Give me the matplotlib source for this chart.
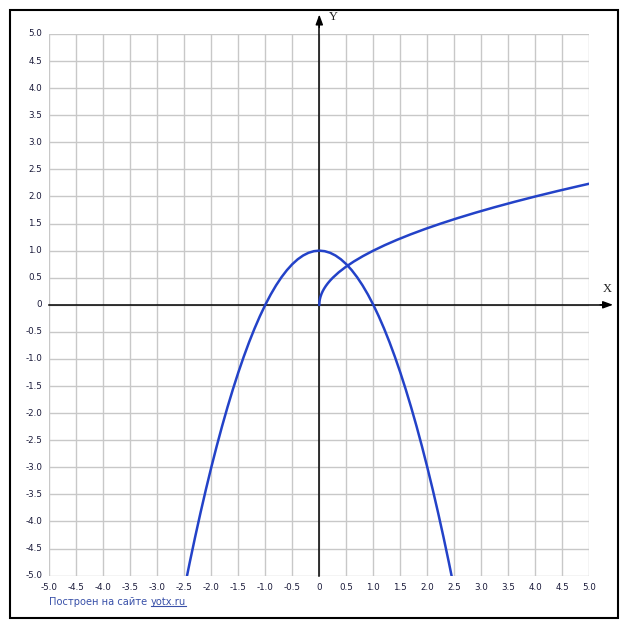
import matplotlib
matplotlib.use("Agg")
import matplotlib.pyplot as plt
from matplotlib.patches import Rectangle
from matplotlib.lines import Line2D

# ---- data ----
parab_x = [-2.5, -2.4, -2.3, -2.2, -2.1, -2.0, -1.9, -1.8, -1.7, -1.6, -1.5, -1.4, -1.3,
           -1.2, -1.1, -1.0, -0.9, -0.8, -0.7, -0.6, -0.5, -0.4, -0.3, -0.2, -0.1, 0.0,
           0.1, 0.2, 0.3, 0.4, 0.5, 0.6, 0.7, 0.8, 0.9, 1.0, 1.1, 1.2, 1.3, 1.4, 1.5,
           1.6, 1.7, 1.8, 1.9, 2.0, 2.1, 2.2, 2.3, 2.4, 2.5]
parab_y = [-5.25, -4.76, -4.29, -3.84, -3.41, -3.0, -2.61, -2.24, -1.89, -1.56, -1.25, -0.96, -0.69,
           -0.44, -0.21, 0.0, 0.19, 0.36, 0.51, 0.64, 0.75, 0.84, 0.91, 0.96, 0.99, 1.0,
           0.99, 0.96, 0.91, 0.84, 0.75, 0.64, 0.51, 0.36, 0.19, 0.0, -0.21, -0.44, -0.69, -0.96, -1.25,
           -1.56, -1.89, -2.24, -2.61, -3.0, -3.41, -3.84, -4.29, -4.76, -5.25]
root_x = [0.0, 0.0025, 0.01, 0.0225, 0.04, 0.0625, 0.09, 0.1225, 0.16, 0.2025, 0.25, 0.36,
          0.49, 0.64, 0.81, 1.0, 1.21, 1.44, 1.69, 1.96, 2.25, 2.56, 2.89, 3.24, 3.61,
          4.0, 4.41, 4.84, 5.0]
root_y = [0.0, 0.05, 0.1, 0.15, 0.2, 0.25, 0.3, 0.35, 0.4, 0.45, 0.5, 0.6,
          0.7, 0.8, 0.9, 1.0, 1.1, 1.2, 1.3, 1.4, 1.5, 1.6, 1.7, 1.8, 1.9,
          2.0, 2.1, 2.2, 2.236]
tick_vals = [-5.0, -4.5, -4.0, -3.5, -3.0, -2.5, -2.0, -1.5, -1.0, -0.5, 0.0,
             0.5, 1.0, 1.5, 2.0, 2.5, 3.0, 3.5, 4.0, 4.5, 5.0]
tick_labels = ["-5.0", "-4.5", "-4.0", "-3.5", "-3.0", "-2.5", "-2.0", "-1.5", "-1.0", "-0.5", "0",
               "0.5", "1.0", "1.5", "2.0", "2.5", "3.0", "3.5", "4.0", "4.5", "5.0"]
footer_main = "Построен на сайте "
footer_link = "yotx.ru"

W, H = 627, 630
fig = plt.figure(figsize=(W / 100, H / 100), dpi=100)
fig.patch.set_facecolor("white")

# outer frame
fig.add_artist(Rectangle((9.5 / W, (H - 618) / H), 608 / W, 608.5 / H,
                         transform=fig.transFigure, fill=False, edgecolor="black", lw=1.5))

left, right, top, bottom = 49.3, 589.3, 34.0, 575.6
ax = fig.add_axes([left / W, (H - bottom) / H, (right - left) / W, (bottom - top) / H])
ax.set_xlim(-5, 5)
ax.set_ylim(-5, 5)
for s in ax.spines.values():
    s.set_visible(False)
ax.set_xticks([])
ax.set_yticks([])

grid_c = "#c8c8c8"
for v in tick_vals:
    ax.axvline(v, color=grid_c, lw=1.0, zorder=1)
    ax.axhline(v, color=grid_c, lw=1.0, zorder=1)

# axes with arrows
ax.plot([-5, 5.3], [0, 0], color="black", lw=1.1, zorder=3, clip_on=False)
ax.plot([0, 0], [-5, 5.25], color="black", lw=1.1, zorder=3, clip_on=False)
arrow = dict(arrowstyle="-|>,head_length=0.6,head_width=0.22", color="black", lw=1.0,
             shrinkA=0, shrinkB=0)
ax.annotate("", xy=(5.44, 0), xytext=(5.2, 0), arrowprops=arrow, annotation_clip=False)
ax.annotate("", xy=(0, 5.36), xytext=(0, 5.12), arrowprops=arrow, annotation_clip=False)
ax.text(5.34, 0.18, "X", fontsize=9, family="Liberation Serif", ha="center", va="bottom",
        color="#202020")
ax.text(0.26, 5.31, "Y", fontsize=9, family="Liberation Serif", ha="center", va="center",
        color="#202020")

# tick labels
lab_c = "#1a1a3a"
for v, t in zip(tick_vals, tick_labels):
    ax.text(-5.13, v, t, fontsize=6.3, ha="right", va="center", color=lab_c, clip_on=False)
    ax.text(v, -5.13, t, fontsize=6.3, ha="center", va="top", color=lab_c, clip_on=False)

# curves
curve_c = "#2342c8"
ax.plot(parab_x, parab_y, color=curve_c, lw=1.8, zorder=4, solid_joinstyle="round")
ax.plot(root_x, root_y, color=curve_c, lw=1.8, zorder=4, solid_joinstyle="round")

# footer
foot_c = "#3850a8"
t1 = fig.text(49 / W, (H - 602) / H, footer_main, fontsize=7.1, color=foot_c, ha="left", va="center")
fig.canvas.draw()
bb = t1.get_window_extent()
t2 = fig.text(bb.x1 / W, (H - 602) / H, footer_link, fontsize=7.1, color=foot_c, ha="left", va="center")
fig.canvas.draw()
bb2 = t2.get_window_extent()
fig.add_artist(Line2D([(bb2.x0 + 1) / W, bb2.x1 / W], [(bb2.y0 + 1.5) / H, (bb2.y0 + 1.5) / H],
                      transform=fig.transFigure, color=foot_c, lw=0.8))

fig.savefig("out.png", dpi=100)
